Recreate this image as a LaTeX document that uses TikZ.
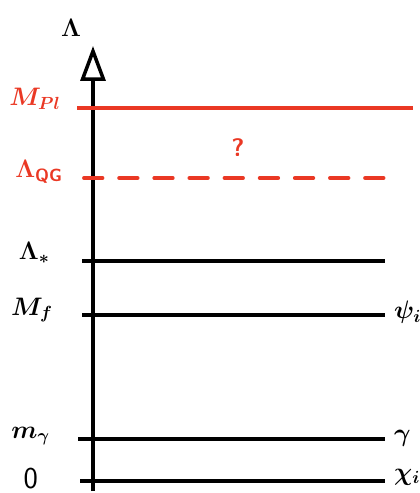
\documentclass[tikz,border=0pt]{standalone}
\usepackage{amsmath, amssymb}
\usepackage{tikz}
\usetikzlibrary{arrows.meta, positioning, calc}
\usepackage{xcolor}
\definecolor{qgred}{RGB}{234,56,36}

\begin{document}
\begin{tikzpicture}[
    x=0.02cm, y=-0.02cm,
    axis/.style={line width=2.2pt, -{Triangle[open, length=7mm, width=5mm, line width=2pt]}},
    level/.style={line width=2.2pt},
    redlevel/.style={line width=2.2pt, draw=qgred},
    leftlab/.style={font=\Large, anchor=east, inner sep=1pt},
    rightlab/.style={font=\Large, anchor=west, inner sep=1pt},
    redlab/.style={font=\Large, anchor=east, inner sep=1pt, text=qgred}
]
\useasboundingbox (0,0) rectangle (419,493);

% Axis
\coordinate (bottom) at (93,491);
\coordinate (top) at (93,46);
\draw[axis] (bottom) -- (top);
\node[font=\Large] (lam) at (71,28) {$\boldsymbol{\Lambda}$};

% Planck scale
\coordinate (pl-a) at (77,108);
\coordinate (pl-b) at (413,108);
\draw[redlevel] (pl-a) -- (pl-b);
\node[redlab] (pl) at (63,99) {$\boldsymbol{M_{Pl}}$};

% Quantum gravity scale
\coordinate (qg-a) at (84,178);
\coordinate (qg-b) at (384,178);
\draw[redlevel, line cap=round, dash pattern=on 10.5pt off 9.5pt] (qg-a) -- (qg-b);
\node[redlab] (qg) at (65,172) {$\boldsymbol{\Lambda_{\mathsf{QG}}}$};
\node[text=qgred, font=\Large\sffamily\bfseries] (q) at (238,148) {?};

% Lambda star
\coordinate (st-a) at (82,261);
\coordinate (st-b) at (385,261);
\draw[level] (st-a) -- (st-b);
\node[leftlab] (st) at (52,253) {$\boldsymbol{\Lambda_*}$};

% Fermion mass
\coordinate (mf-a) at (82,315);
\coordinate (mf-b) at (385,315);
\draw[level] (mf-a) -- (mf-b);
\node[leftlab] (mf) at (55,310) {$\boldsymbol{M_f}$};
\node[rightlab] (psi) at (392,312) {$\boldsymbol{\psi_i}$};

% Photon mass
\coordinate (mg-a) at (78,439);
\coordinate (mg-b) at (385,439);
\draw[level] (mg-a) -- (mg-b);
\node[leftlab] (mg) at (52,436) {$\boldsymbol{m_\gamma}$};
\node[rightlab] (gam) at (392,438) {$\boldsymbol{\gamma}$};

% Zero
\coordinate (z-a) at (80,481);
\coordinate (z-b) at (385,481);
\draw[level] (z-a) -- (z-b);
\node[leftlab, font=\LARGE\sffamily] (zero) at (40,479) {0};
\node[rightlab] (chi) at (392,477) {$\boldsymbol{\chi_i}$};

\end{tikzpicture}
\end{document}
